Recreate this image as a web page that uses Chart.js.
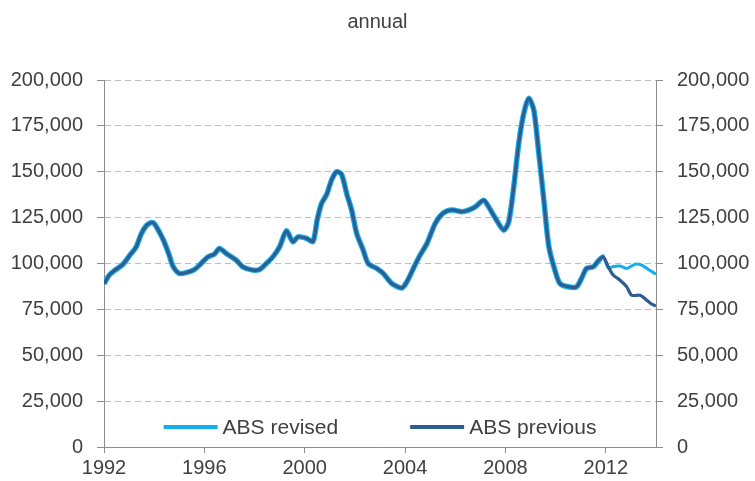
<!DOCTYPE html>
<html>
<head>
<meta charset="utf-8">
<script src="https://cdn.jsdelivr.net/npm/chart.js@4/dist/chart.umd.min.js"></script>
<style>
  html, body { margin: 0; padding: 0; background: #fff; }
  #wrap { width: 755px; height: 481px; position: relative; }
</style>
</head>
<body>
<div id="wrap"><canvas id="chart"></canvas></div>
<script>
// Both series share the same history up to the end of 2011
const historyYears = [
  1992.00, 1992.20, 1992.40, 1992.75, 1993.00, 1993.28, 1993.48, 1993.68, 1993.88, 1994.00,
  1994.20, 1994.40, 1994.60, 1994.75, 1995.00, 1995.27, 1995.60, 1995.87, 1996.14, 1996.40,
  1996.60, 1996.87, 1997.27, 1997.53, 1997.93, 1998.20, 1998.47, 1998.73, 1999.00, 1999.27,
  1999.53, 1999.73, 2000.07, 2000.33, 2000.50, 2000.67, 2000.87, 2001.07, 2001.27, 2001.47,
  2001.67, 2001.87, 2002.07, 2002.33, 2002.53, 2002.87, 2003.13, 2003.47, 2003.87, 2004.07,
  2004.33, 2004.60, 2004.87, 2005.20, 2005.53, 2005.87, 2006.27, 2006.53, 2006.80, 2007.13,
  2007.33, 2007.60, 2007.93, 2008.13, 2008.33, 2008.53, 2008.73, 2008.93, 2009.13, 2009.33,
  2009.53, 2009.73, 2009.97, 2010.17, 2010.50, 2010.83, 2011.03, 2011.23, 2011.50, 2011.70,
  2011.90
];
const historyValues = [
  89000, 93500, 96000, 99500, 104000, 109000, 116000, 120500, 122300, 121800,
  117300, 111800, 104500, 98500, 94600, 95000, 96700, 100000, 103600, 105100,
  108200, 105500, 101800, 98200, 96400, 96700, 100000, 103600, 109100, 117800,
  111800, 114500, 113700, 112000, 124000, 132700, 137500, 145500, 150000, 148500,
  138200, 129100, 116400, 107300, 100000, 97300, 94600, 89100, 86700, 90000,
  97300, 104600, 110900, 121800, 127600, 129200, 128200, 129100, 130900, 134500,
  130900, 124600, 118200, 122700, 141800, 165500, 181800, 190000, 183600, 160000,
  134500, 109100, 96400, 89100, 87300, 87300, 91800, 97300, 98200, 101400,
  103600
];

// Where the two estimates split
const previousTailYears = [2012.10, 2012.30, 2012.57, 2012.83, 2013.03, 2013.37, 2013.63, 2013.83, 2014.00];
const previousTailValues = [98200, 93600, 90900, 87300, 82700, 82700, 80000, 77800, 76900];
const revisedTailYears = [2012.10, 2012.30, 2012.57, 2012.83, 2013.17, 2013.43, 2013.70, 2014.00];
const revisedTailValues = [97500, 98400, 98600, 97300, 99600, 99100, 96700, 94200];

const seriesLabels = ['ABS revised', 'ABS previous'];
const xTicks = [1992, 1996, 2000, 2004, 2008, 2012];
const yTicks = [0, 25000, 50000, 75000, 100000, 125000, 150000, 175000, 200000];
const splitYear = 2011.9;

const REVISED_COLOR = '#12AEEE';
const PREVIOUS_COLOR = '#2F5E8E';
const TEXT_COLOR = '#404040';
const AXIS_COLOR = '#8C8C8C';
const FONT = 'Liberation Sans, Arial, sans-serif';

function toPoints(xs, ys) {
  return xs.map((x, i) => ({ x, y: ys[i] }));
}

const revisedData = toPoints(historyYears.concat(revisedTailYears), historyValues.concat(revisedTailValues));
const previousData = toPoints(historyYears.concat(previousTailYears), historyValues.concat(previousTailValues));

// Legend sits inside the plot, just above the x axis
const insideLegend = {
  id: 'insideLegend',
  afterDraw(chart) {
    const ctx = chart.ctx;
    const area = chart.chartArea;
    const lineLen = 54, gapText = 5, gapItem = 72;
    ctx.save();
    ctx.font = '21px ' + FONT;
    const items = chart.data.datasets.map(ds => ({
      label: ds.label, color: ds.borderColor, w: ctx.measureText(ds.label).width
    }));
    const total = items.reduce((s, it) => s + lineLen + gapText + it.w, 0) + gapItem * (items.length - 1);
    let x = (area.left + area.right) / 2 - total / 2;
    const y = area.bottom - 20;
    items.forEach(it => {
      ctx.strokeStyle = it.color;
      ctx.lineWidth = 4;
      ctx.beginPath();
      ctx.moveTo(x, y);
      ctx.lineTo(x + lineLen, y);
      ctx.stroke();
      ctx.fillStyle = TEXT_COLOR;
      ctx.textBaseline = 'middle';
      ctx.textAlign = 'left';
      ctx.fillText(it.label, x + lineLen + gapText, y + 1);
      x += lineLen + gapText + it.w + gapItem;
    });
    ctx.restore();
  }
};

function yAxis(position, width) {
  return {
    type: 'linear',
    position,
    min: 0,
    max: 200000,
    afterBuildTicks: s => { s.ticks = yTicks.map(v => ({ value: v })); },
    afterFit: s => { s.width = width; },
    ticks: {
      color: TEXT_COLOR,
      font: { family: FONT, size: 20 },
      padding: 14,
      callback: v => v.toLocaleString('en-US')
    },
    grid: {
      display: true,
      drawOnChartArea: position === 'left',
      color: ctx => ctx.tick && ctx.tick.value === 0 ? 'rgba(0,0,0,0)' : '#BFBFBF',
      tickColor: AXIS_COLOR,
      tickLength: 7,
      lineWidth: 1
    },
    border: { display: true, color: AXIS_COLOR, width: 1, dash: [6, 4] }
  };
}

new Chart(document.getElementById('chart'), {
  type: 'line',
  data: {
    datasets: [
      {
        label: seriesLabels[0],
        data: revisedData,
        borderColor: REVISED_COLOR,
        borderWidth: 5.5,
        segment: { borderWidth: c => c.p0.parsed.x >= splitYear ? 3 : undefined },
        pointRadius: 0,
        tension: 0.25,
        order: 2
      },
      {
        label: seriesLabels[1],
        data: previousData,
        borderColor: PREVIOUS_COLOR,
        borderWidth: 3.2,
        pointRadius: 0,
        tension: 0.25,
        order: 1
      }
    ]
  },
  options: {
    responsive: true,
    maintainAspectRatio: false,
    animation: false,
    locale: 'en-US',
    layout: { padding: 0 },
    plugins: {
      legend: { display: false },
      tooltip: { enabled: false },
      title: {
        display: true,
        text: 'annual',
        color: TEXT_COLOR,
        font: { family: FONT, size: 20, weight: 'normal' },
        padding: { top: 10, bottom: 46 }
      }
    },
    scales: {
      x: {
        type: 'linear',
        min: 1992,
        max: 2014,
        afterBuildTicks: s => { s.ticks = xTicks.map(v => ({ value: v })); },
        afterFit: s => { s.height = 34; },
        ticks: {
          color: TEXT_COLOR,
          font: { family: FONT, size: 20 },
          padding: 3,
          maxRotation: 0,
          autoSkip: false,
          callback: v => String(v)
        },
        grid: {
          drawOnChartArea: false,
          tickColor: AXIS_COLOR,
          tickLength: 6
        },
        border: { display: true, color: AXIS_COLOR, width: 1 }
      },
      y: yAxis('left', 104),
      y2: yAxis('right', 99)
    }
  },
  plugins: [insideLegend]
});
</script>
</body>
</html>
